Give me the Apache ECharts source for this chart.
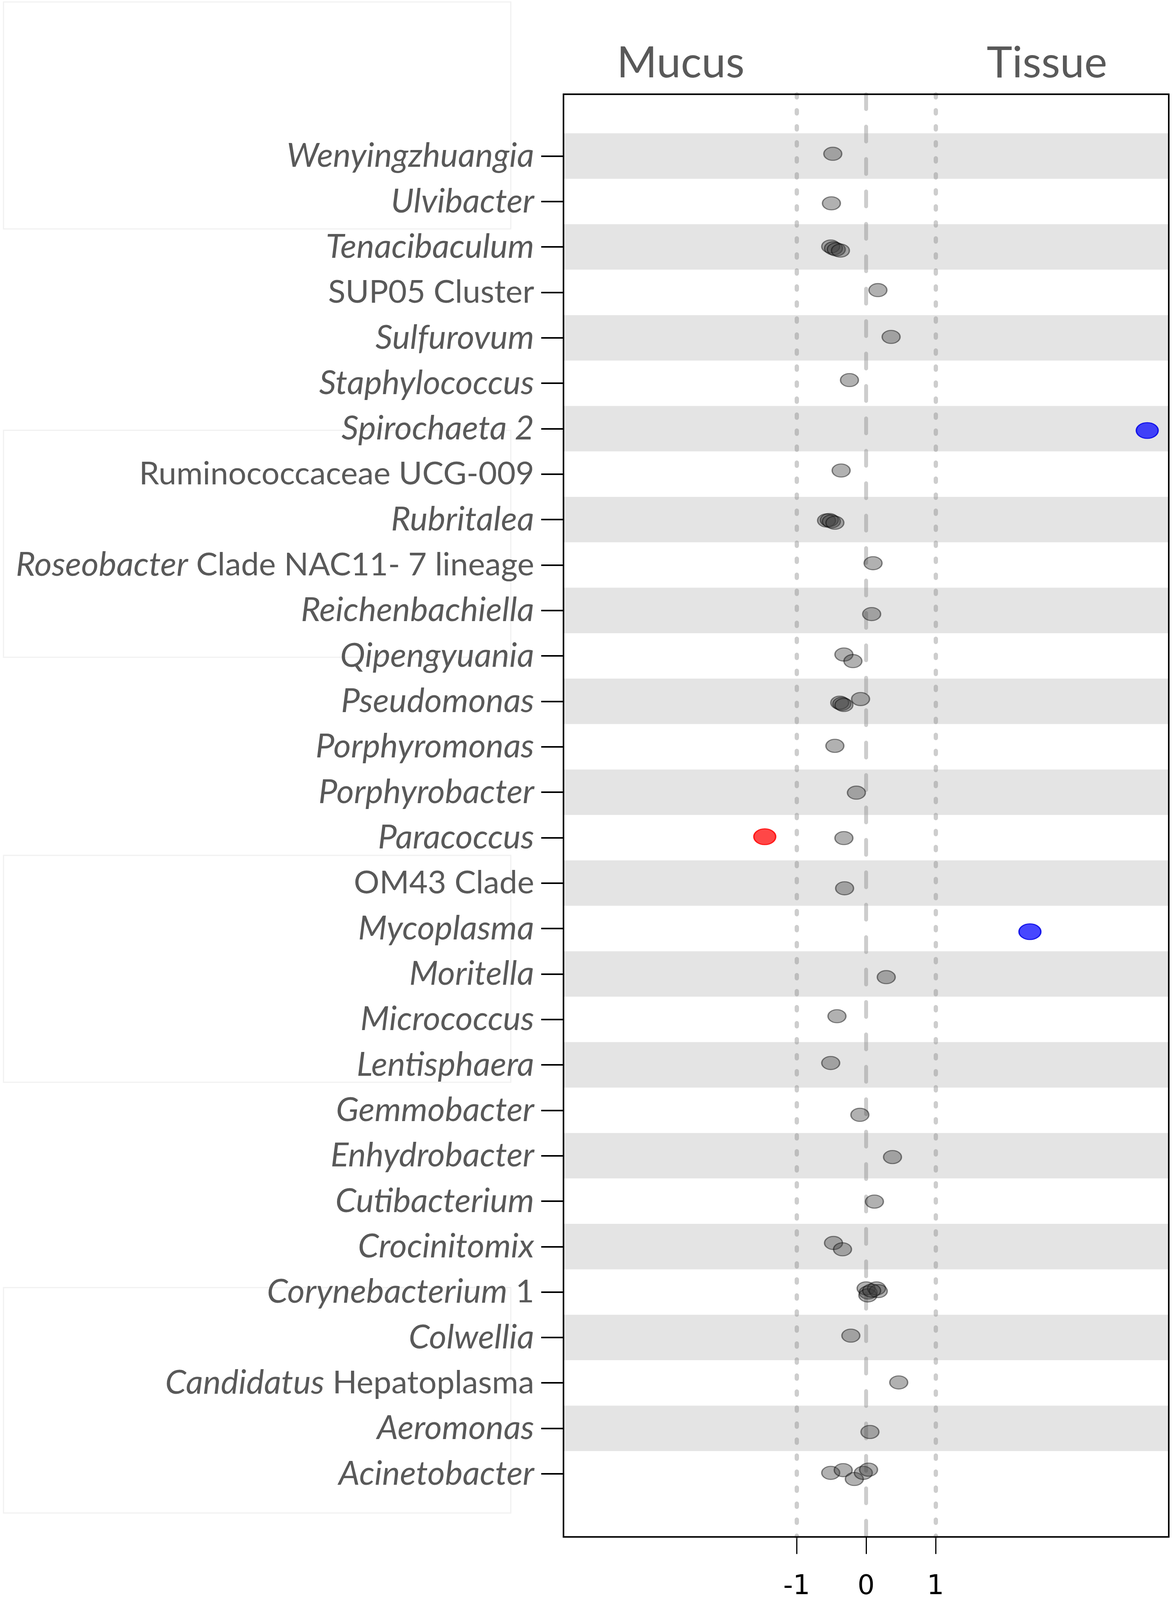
<!DOCTYPE html>
<html lang="en">
<head>
  <meta charset="UTF-8">
  <title>Mucus vs Tissue</title>
  <style>
    html, body {margin: 0; padding: 0; background: #fff; overflow: hidden;}
    #chart {width: 100vw; height: 100vh;}
  </style>
</head>
<body>
  <div id="chart"></div>

  <script src="https://cdn.jsdelivr.net/npm/echarts@6.0.0/dist/echarts.min.js"></script>
  <script>
    // genera, top to bottom
    var genera = [
      'Wenyingzhuangia', 'Ulvibacter', 'Tenacibaculum', 'SUP05 Cluster', 'Sulfurovum',
      'Staphylococcus', 'Spirochaeta 2', 'Ruminococcaceae UCG-009', 'Rubritalea',
      'Roseobacter Clade NAC11- 7 lineage', 'Reichenbachiella', 'Qipengyuania', 'Pseudomonas',
      'Porphyromonas', 'Porphyrobacter', 'Paracoccus', 'OM43 Clade', 'Mycoplasma', 'Moritella',
      'Micrococcus', 'Lentisphaera', 'Gemmobacter', 'Enhydrobacter', 'Cutibacterium',
      'Crocinitomix', 'Corynebacterium 1', 'Colwellia', 'Candidatus Hepatoplasma',
      'Aeromonas', 'Acinetobacter'
    ];

    // part of the label set in italics (default: whole name)
    var italicPart = {
      'SUP05 Cluster': '',
      'Ruminococcaceae UCG-009': '',
      'OM43 Clade': '',
      'Roseobacter Clade NAC11- 7 lineage': 'Roseobacter',
      'Corynebacterium 1': 'Corynebacterium',
      'Candidatus Hepatoplasma': 'Candidatus'
    };

    // [genus, log fold change, vertical jitter in rows]
    var otherPoints = [
      ['Wenyingzhuangia', -0.48, -0.05],
      ['Ulvibacter', -0.50, 0.04],
      ['Tenacibaculum', -0.51, -0.01], ['Tenacibaculum', -0.47, 0.03],
      ['Tenacibaculum', -0.43, 0.055], ['Tenacibaculum', -0.37, 0.08],
      ['SUP05 Cluster', 0.17, -0.05],
      ['Sulfurovum', 0.36, -0.02],
      ['Staphylococcus', -0.24, -0.07],
      ['Ruminococcaceae UCG-009', -0.36, -0.08],
      ['Rubritalea', -0.57, 0.02], ['Rubritalea', -0.53, 0.01],
      ['Rubritalea', -0.50, 0.04], ['Rubritalea', -0.45, 0.07],
      ['Roseobacter Clade NAC11- 7 lineage', 0.10, -0.04],
      ['Reichenbachiella', 0.08, 0.08],
      ['Qipengyuania', -0.32, -0.03], ['Qipengyuania', -0.19, 0.115],
      ['Pseudomonas', -0.08, -0.05], ['Pseudomonas', -0.38, 0.03],
      ['Pseudomonas', -0.35, 0.055], ['Pseudomonas', -0.32, 0.08],
      ['Porphyromonas', -0.45, -0.02],
      ['Porphyrobacter', -0.14, 0.01],
      ['Paracoccus', -0.32, 0.01],
      ['OM43 Clade', -0.31, 0.115],
      ['Moritella', 0.29, 0.07],
      ['Micrococcus', -0.42, -0.07],
      ['Lentisphaera', -0.51, -0.04],
      ['Gemmobacter', -0.09, 0.10],
      ['Enhydrobacter', 0.38, 0.03],
      ['Cutibacterium', 0.12, 0.01],
      ['Crocinitomix', -0.47, -0.08], ['Crocinitomix', -0.34, 0.06],
      ['Corynebacterium 1', 0.00, -0.08], ['Corynebacterium 1', 0.03, 0.01],
      ['Corynebacterium 1', 0.025, 0.075], ['Corynebacterium 1', 0.15, -0.08],
      ['Corynebacterium 1', 0.175, -0.02], ['Corynebacterium 1', 0.08, -0.03],
      ['Colwellia', -0.22, -0.04],
      ['Candidatus Hepatoplasma', 0.47, -0.01],
      ['Aeromonas', 0.055, 0.08],
      ['Acinetobacter', -0.51, -0.02], ['Acinetobacter', -0.33, -0.08],
      ['Acinetobacter', -0.17, 0.115], ['Acinetobacter', -0.04, -0.02],
      ['Acinetobacter', 0.035, -0.09]
    ];
    var mucusPoints = [
      ['Paracoccus', -1.46, -0.02]
    ];
    var tissuePoints = [
      ['Spirochaeta 2', 4.05, 0.04],
      ['Mycoplasma', 2.36, 0.07]
    ];

    var xTicks = [-1, 0, 1];
    var refLines = [-1, 0, 1];
    var groupTitles = ['Mucus', 'Tissue'];

    function toXY(list) {
      return list.map(function (p) {
        return [p[1], genera.indexOf(p[0]) + p[2]];
      });
    }

    function labelText(name) {
      var it = italicPart.hasOwnProperty(name) ? italicPart[name] : name;
      var rest = name.slice(it.length);
      var s = '';
      if (it) s += '{i|' + it + '}';
      if (rest) s += '{n|' + rest + '}';
      return s;
    }

    var rowIdx = genera.map(function (g, i) { return i; });

    // alternating grey bands
    var bands = [];
    for (var i = 0; i < genera.length; i += 2) {
      bands.push([{yAxis: i - 0.5}, {yAxis: i + 0.5}]);
    }

    var dom = document.getElementById('chart');
    var chart = echarts.init(dom);
    var W = chart.getWidth(), H = chart.getHeight();
    // layout was measured on a 3009 x 4871 page
    var sx = W / 3009, sy = H / 4871;
    var grid = {
      left: 1443 * sx, right: 16 * sx, top: 287 * sy, bottom: 192 * sy,
      containLabel: false,
      outerBoundsMode: 'none'   // keep the plot box where it is
    };

    function panel(y, h) {
      return {type: 'rect', z: -10, silent: true,
        shape: {x: 9 * sx, y: y * sy, width: 1299 * sx, height: h * sy},
        style: {fill: 'none', stroke: '#f1f1f1', lineWidth: 3}};
    }

    var option = {
      backgroundColor: '#fff',
      animation: false,
      grid: grid,
      xAxis: {
        type: 'value',
        min: -4.36,
        max: 4.36,
        axisLine: {show: false, onZero: false},
        splitLine: {show: false},
        axisTick: {
          show: true,
          customValues: xTicks,
          length: 52 * sy,
          lineStyle: {color: '#000', width: 3}
        },
        axisLabel: {
          customValues: xTicks,
          margin: 112 * sy,
          fontFamily: 'DejaVu Sans',
          fontSize: Math.round(82 * sy),
          color: '#000'
        }
      },
      yAxis: {
        type: 'value',
        inverse: true,
        min: -1.36,
        max: 30.39,
        axisLine: {show: false, onZero: false},
        splitLine: {show: false},
        axisTick: {
          show: true,
          customValues: rowIdx,
          length: 57 * sx,
          lineStyle: {color: '#000', width: 4}
        },
        axisLabel: {
          customValues: rowIdx,
          margin: 75 * sx,
          formatter: function (v) { return labelText(genera[v]); },
          rich: {
            i: {fontStyle: 'italic', fontFamily: 'Lato', fontSize: 86, color: '#595959'},
            n: {fontStyle: 'normal', fontFamily: 'Lato', fontSize: 82, color: '#595959'}
          }
        }
      },
      series: [{
        type: 'scatter',
        data: [],
        z: 1,
        silent: true,
        markArea: {
          silent: true,
          itemStyle: {color: '#e4e4e4'},
          data: bands
        }
      }, {
        type: 'scatter',
        data: [],
        z: 2,
        silent: true,
        markLine: {
          silent: true,
          symbol: ['none', 'none'],
          label: {show: false},
          data: refLines.map(function (v) {
            return {
              xAxis: v,
              lineStyle: v === 0
                ? {color: 'rgba(130,130,130,0.4)', width: 10, type: [38, 45], cap: 'round'}
                : {color: 'rgba(130,130,130,0.4)', width: 11, type: [8, 33], cap: 'round'}
            };
          })
        }
      }, {
        name: 'other',
        type: 'scatter',
        z: 5,
        symbolSize: [46 * sx, 40 * sy],
        itemStyle: {color: 'rgba(60,60,60,0.4)', borderColor: 'rgba(0,0,0,0.45)', borderWidth: 3, opacity: 1},
        data: toXY(otherPoints)
      }, {
        name: 'mucus',
        type: 'scatter',
        z: 6,
        symbolSize: [56 * sx, 48 * sy],
        itemStyle: {color: 'rgba(255,0,0,0.72)', borderColor: 'rgba(255,0,0,0.85)', borderWidth: 3, opacity: 1},
        data: toXY(mucusPoints)
      }, {
        name: 'tissue',
        type: 'scatter',
        z: 6,
        symbolSize: [56 * sx, 48 * sy],
        itemStyle: {color: 'rgba(0,0,255,0.72)', borderColor: 'rgba(0,0,230,0.85)', borderWidth: 3, opacity: 1},
        data: toXY(tissuePoints)
      }],
      graphic: [
        // faint panel outlines left over in the figure
        panel(6, 691), panel(1310, 691), panel(2604, 691), panel(3920, 686),
        // plot frame
        {type: 'rect', z: 100, silent: true,
          shape: {x: grid.left, y: grid.top, width: W - grid.left - grid.right, height: H - grid.top - grid.bottom},
          style: {fill: 'none', stroke: '#000', lineWidth: 4}},
        {type: 'text', z: 100, x: 1743 * sx, y: 193 * sy,
          style: {text: groupTitles[0], fontFamily: 'Lato', fontSize: 111, fill: '#595959', align: 'center', verticalAlign: 'middle'}},
        {type: 'text', z: 100, x: 2681 * sx, y: 193 * sy,
          style: {text: groupTitles[1], fontFamily: 'Lato', fontSize: 111, fill: '#595959', align: 'center', verticalAlign: 'middle'}}
      ]
    };

    chart.setOption(option);
  </script>
</body>
</html>
